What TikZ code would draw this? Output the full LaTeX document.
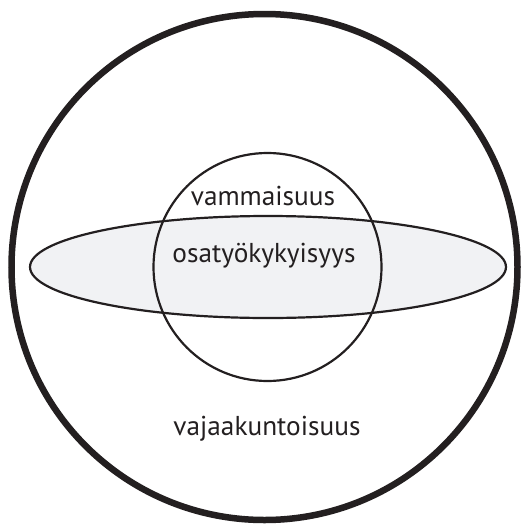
\documentclass[tikz,border=0pt]{standalone}
\usepackage{fontspec}
\setmainfont{PT Sans}
\definecolor{ellfill}{RGB}{241,242,244}
\definecolor{ink}{RGB}{35,31,32}
\tikzset{
  lbl/.style={anchor=base, inner sep=0pt, font=\fontsize{27.3}{32}\selectfont, text=ink},
}
\begin{document}
\begin{tikzpicture}[x=1pt,y=-1pt]
\useasboundingbox (0,0) rectangle (522,528);
\draw[ink, line width=6.5pt] (264.5,267) circle [radius=253];
\draw[ink, fill=ellfill, line width=2.2pt] (268,267) ellipse [x radius=238, y radius=51];
\draw[ink, line width=2.2pt] (267.5,267) circle [radius=114];
\node[lbl] (vamm) at (263,205) {vammaisuus};
\node[lbl] (osat) at (264,262) {osatyökykyisyys};
\node[lbl] (vaja) at (267,435) {vajaakuntoisuus};
\end{tikzpicture}
\end{document}
